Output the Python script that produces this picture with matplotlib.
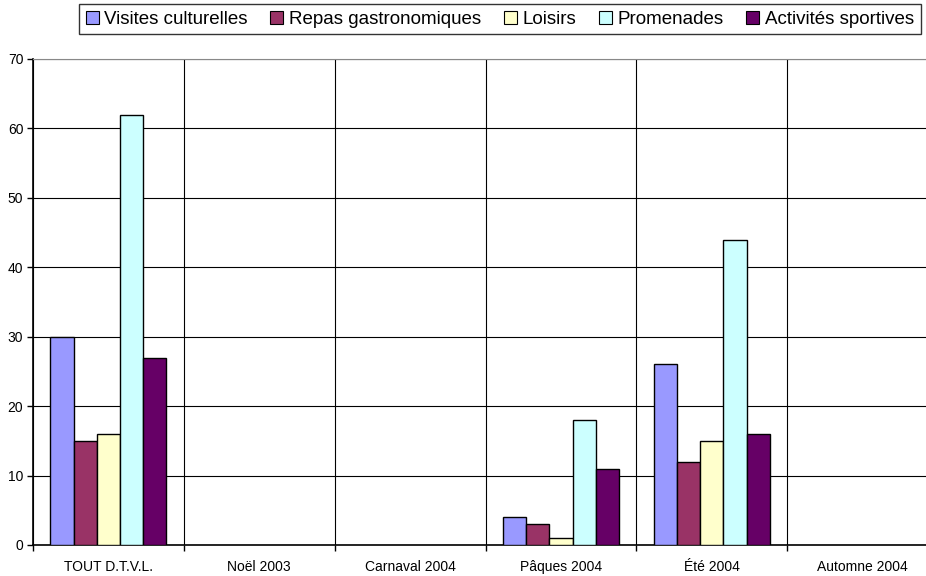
import matplotlib
matplotlib.use("Agg")
import matplotlib.pyplot as plt
import numpy as np

plt.rcParams['font.family'] = ['Liberation Sans', 'DejaVu Sans']

categories = ["TOUT D.T.V.L.", "Noël 2003", "Carnaval 2004", "Pâques 2004", "Été 2004", "Automne 2004"]
series_names = ["Visites culturelles", "Repas gastronomiques", "Loisirs", "Promenades", "Activités sportives"]
visites = [30, 0, 0, 4, 26, 0]
repas = [15, 0, 0, 3, 12, 0]
loisirs = [16, 0, 0, 1, 15, 0]
promenades = [62, 0, 0, 18, 44, 0]
sportives = [27, 0, 0, 11, 16, 0]
colors = ["#9999FF", "#993366", "#FFFFCC", "#CCFFFF", "#660066"]

series = [visites, repas, loisirs, promenades, sportives]

fig = plt.figure(figsize=(9.26, 5.76), dpi=100)
# axes runs off the right edge like the original
ax = fig.add_axes([33 / 926, 31 / 576, 905 / 926, 486 / 576])

n = len(series)
width = 1 / (n + 1.5)
x = np.arange(len(categories))
handles = []
for i, (vals, col, name) in enumerate(zip(series, colors, series_names)):
    pos = x + 0.5 + (i - (n - 1) / 2) * width
    vals = np.array(vals)
    mask = vals > 0
    ax.bar(pos[mask], vals[mask], width=width, color=col, edgecolor="black", linewidth=1, zorder=3)
    handles.append(plt.Rectangle((0, 0), 1, 1, facecolor=col, edgecolor="black", linewidth=0.8))

ax.set_xlim(0, len(categories))
ax.set_ylim(0, 70)
ax.set_yticks(np.arange(0, 71, 10))
ax.set_xticks(np.arange(0, len(categories) + 1))
ax.set_xticklabels([])
ax.set_xticks(x + 0.5, minor=True)
ax.set_xticklabels(categories, minor=True, fontsize=10)
ax.tick_params(axis="x", which="minor", length=0, pad=11)
ax.tick_params(axis="x", which="major", length=4, direction="out", width=1)
ax.tick_params(axis="y", length=4, direction="out", width=1, labelsize=10, pad=3)

ax.grid(True, which="major", color="black", linewidth=0.8, zorder=0)
ax.set_axisbelow(True)
ax.spines["right"].set_visible(False)
ax.spines["top"].set_color("#888888")
ax.spines["left"].set_linewidth(1.2)
ax.spines["bottom"].set_linewidth(1.2)

leg = fig.legend(handles, series_names, loc="upper left", bbox_to_anchor=(79 / 926, 1 - 4 / 576),
                 ncol=5, fontsize=13.5, frameon=True, fancybox=False, handlelength=0.7,
                 handleheight=0.7, handletextpad=0.3, columnspacing=1.2, borderpad=0.35,
                 borderaxespad=0)
leg.get_frame().set_edgecolor("black")
leg.get_frame().set_linewidth(1)

fig.savefig("out.png", dpi=100)
